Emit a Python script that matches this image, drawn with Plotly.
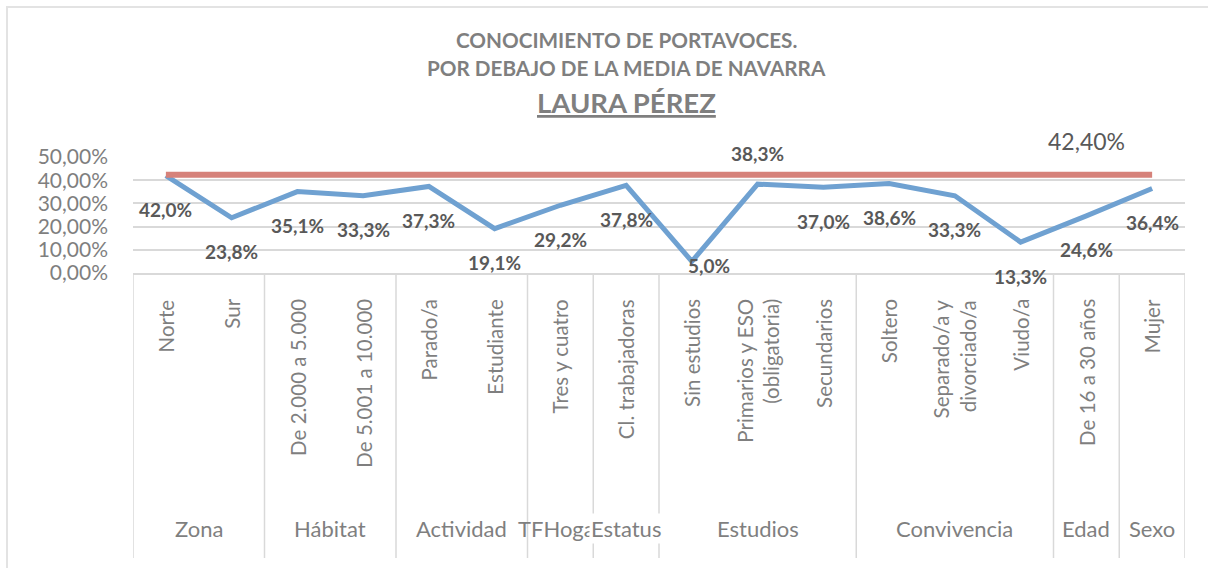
import plotly.graph_objects as go

# Survey breakdown: share of people who know the spokesperson, by subgroup
categories = [
    "Norte", "Sur",
    "De 2.000 a 5.000", "De 5.001 a 10.000",
    "Parado/a", "Estudiante",
    "Tres y cuatro",
    "Cl. trabajadoras",
    "Sin estudios", "Primarios y ESO<br>(obligatoria)", "Secundarios",
    "Soltero", "Separado/a y<br>divorciado/a", "Viudo/a",
    "De 16 a 30 años",
    "Mujer",
]
values = [0.420, 0.238, 0.351, 0.333, 0.373, 0.191, 0.292, 0.378,
          0.050, 0.383, 0.370, 0.386, 0.333, 0.133, 0.246, 0.364]
groups = ["Zona", "Hábitat", "Actividad", "TFHogar", "Estatus",
          "Estudios", "Convivencia", "Edad", "Sexo"]
group_sizes = [2, 2, 2, 1, 1, 3, 3, 1, 1]
navarra_mean = 0.424

# Page geometry (pixels)
W, H = 1208, 568
L, R, T, B = 133, 23, 157, 295
PW, PH = W - L - R, H - T - B


def px_x(px):
    return (px - L) / PW


def px_y(py):
    return (H - B - py) / PH


FONT = "Lato"
GRAY_TXT = "#7F7F7F"
DARK_TXT = "#595959"
GRID = "#D9D9D9"

n = len(categories)
xs = list(range(n))

fig = go.Figure()
fig.add_trace(go.Scatter(
    x=xs, y=values, mode="lines",
    line=dict(color="#6FA1D1", width=5),
    hoverinfo="skip", showlegend=False,
))
fig.add_trace(go.Scatter(
    x=xs, y=[navarra_mean] * n, mode="lines",
    line=dict(color="#D6827A", width=6),
    hoverinfo="skip", showlegend=False,
))

annotations = []

# value labels: mostly under the point, a couple moved aside
label_shift = {8: (17, -4), 9: (0, 31)}
for i, v in enumerate(values):
    dx, dy = label_shift.get(i, (0, -34))
    annotations.append(dict(
        x=i, y=v, xref="x", yref="y", xshift=dx, yshift=dy,
        text=f"{v * 100:.1f}%".replace(".", ","), showarrow=False,
        font=dict(family=FONT, size=19, color=DARK_TXT, weight="bold"),
        xanchor="center", yanchor="middle",
    ))

# mean value label
annotations.append(dict(
    x=14, y=navarra_mean, xref="x", yref="y", yshift=34,
    text=f"{navarra_mean * 100:.2f}%".replace(".", ","), showarrow=False,
    font=dict(family=FONT, size=23, color=DARK_TXT),
    xanchor="center", yanchor="middle",
))

# category labels, rotated
for i, c in enumerate(categories):
    annotations.append(dict(
        x=i, y=0, xref="x", yref="paper", yshift=-24,
        text=c, textangle=-90, showarrow=False, align="right",
        font=dict(family=FONT, size=20.5, color=GRAY_TXT),
        xanchor="center", yanchor="top",
    ))

# group labels and separators
shapes = []
start = 0
bounds = [-0.5]
for g, s in zip(groups, group_sizes):
    centre = start + (s - 1) / 2
    annotations.append(dict(
        x=centre, y=0, xref="x", yref="paper", yshift=-255,
        text=g, showarrow=False,
        font=dict(family=FONT, size=22, color=GRAY_TXT),
        bgcolor="white" if g == "Estatus" else None,
        xanchor="center", yanchor="middle",
    ))
    start += s
    bounds.append(start - 0.5)

for b in bounds:
    shapes.append(dict(
        type="line", xref="x", yref="paper",
        x0=b, x1=b, y0=0, y1=px_y(558),
        line=dict(color=GRID, width=1.5),
    ))

# chart frame
shapes.append(dict(
    type="rect", xref="paper", yref="paper",
    x0=px_x(7), x1=px_x(1215), y0=px_y(575), y1=px_y(7),
    line=dict(color="#E3E3E3", width=2), layer="below",
))

# title
title_lines = [
    ("CONOCIMIENTO DE PORTAVOCES.", 20.7, 40),
    ("POR DEBAJO DE LA MEDIA DE NAVARRA", 20.7, 68),
    ("<u>LAURA PÉREZ</u>", 27.5, 102),
]
for txt, size, py in title_lines:
    annotations.append(dict(
        x=px_x(626), y=px_y(py), xref="paper", yref="paper",
        text=txt, showarrow=False,
        font=dict(family=FONT, size=size, color=GRAY_TXT, weight="bold"),
        xanchor="center", yanchor="middle",
    ))

fig.update_layout(
    width=W, height=H,
    margin=dict(l=L, r=R, t=T, b=B, pad=0),
    paper_bgcolor="white", plot_bgcolor="white",
    separators=",.",
    annotations=annotations, shapes=shapes,
    xaxis=dict(range=[-0.5, n - 0.5], showticklabels=False, showgrid=False,
               zeroline=False, showline=True, linecolor=GRID, linewidth=1.5,
               fixedrange=True),
    yaxis=dict(range=[0, 0.5], dtick=0.1, tickformat=".2%",
               gridcolor=GRID, gridwidth=1.5, zeroline=False, showline=False,
               ticklabelstandoff=24,
               tickfont=dict(family=FONT, size=21, color=GRAY_TXT),
               fixedrange=True),
)

fig.write_html("out.html")
